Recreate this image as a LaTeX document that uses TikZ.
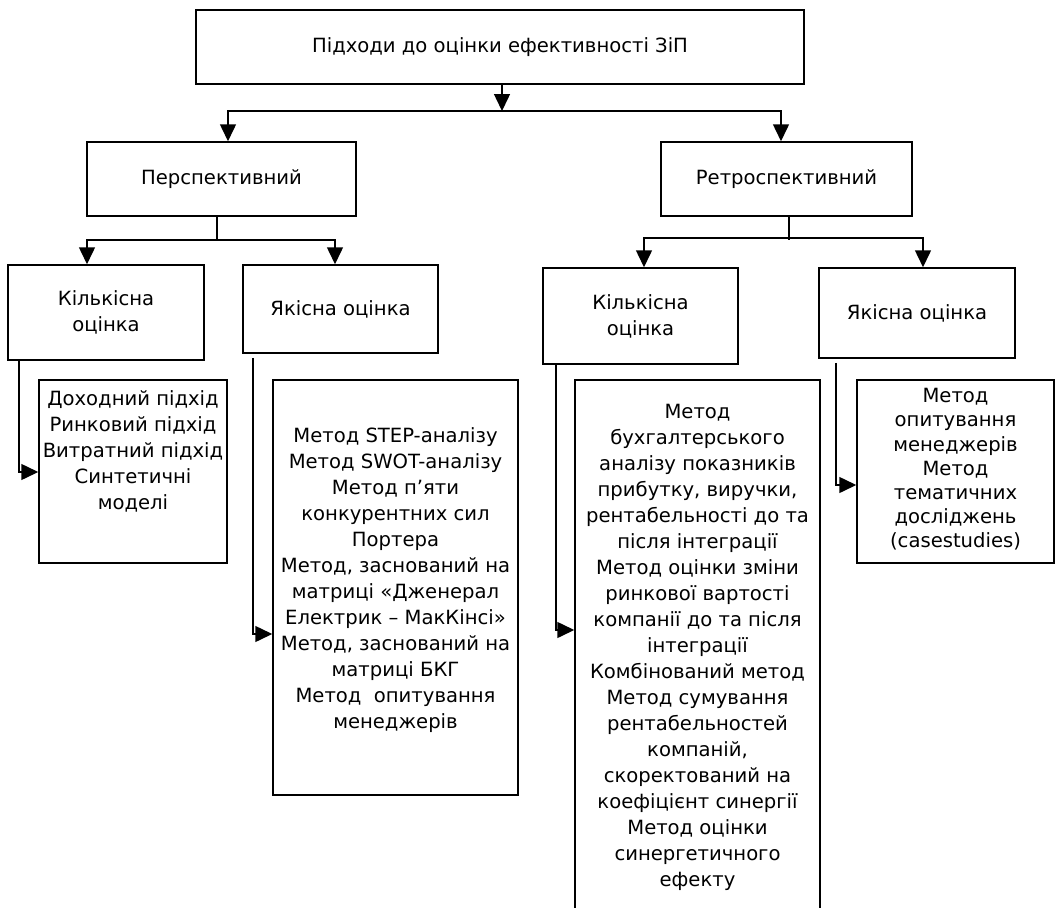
\documentclass[tikz,border=0pt]{standalone}
\usepackage{fontspec}
\setmainfont{DejaVu Sans}
\usepackage{tikz}
\usetikzlibrary{arrows.meta,calc}

\begin{document}
\begin{tikzpicture}[x=1pt,y=-1pt,line width=1.5pt,
    font=\fontsize{19.6}{26}\selectfont,
    box/.style={draw,inner sep=0pt,align=center},
    txt/.style={align=center,inner sep=0pt},
    arr/.style={-{Triangle[length=17pt,width=16pt]}}]
            \clip (0,0) rectangle (1062,907);
            \node[box,minimum width=608,minimum height=74] (top) at (500,47) {Підходи до оцінки ефективності ЗіП};
            \node[box,minimum width=269,minimum height=74] (persp) at (221.5,179) {Перспективний};
            \node[box,minimum width=251,minimum height=74] (retro) at (786.5,179) {Ретроспективний};
            \node[box,minimum width=196,minimum height=95] (kl) at (106,312.5) {Кількісна\\оцінка};
            \node[box,minimum width=195,minimum height=88] (yl) at (340.5,309) {Якісна оцінка};
            \node[box,minimum width=195,minimum height=96] (kr) at (640.5,316) {Кількісна\\оцінка};
            \node[box,minimum width=196,minimum height=90] (yr) at (917,313) {Якісна оцінка};
            \node[box,minimum width=188,minimum height=183] (klist) at (133,471.5) {};
            \node[box,minimum width=245,minimum height=415] (ylist) at (395.5,587.5) {};
            \node[box,minimum width=245,minimum height=560] (krlist) at (697.5,660) {};
            \node[box,minimum width=197,minimum height=183] (yrlist) at (955.5,471.5) {};
            \node[txt] (klistt) at (133,451) {Доходний підхід\\Ринковий підхід\\Витратний підхід\\Синтетичні\\моделі};
            \node[txt] (ylistt) at (395.5,580.5) {Метод STEP-аналізу\\Метод SWOT-аналізу\\Метод п’яти\\конкурентних сил\\Портера\\Метод, заснований на\\матриці «Дженерал\\Електрик – МакКінсі»\\Метод, заснований на\\матриці БКГ\\Метод~ опитування\\менеджерів};
            \node[txt] (krlistt) at (697.5,647) {Метод\\бухгалтерського\\аналізу показників\\прибутку, виручки,\\рентабельності до та\\після інтеграції\\Метод оцінки зміни\\ринкової вартості\\компанії до та після\\інтеграції\\Комбінований метод\\Метод сумування\\рентабельностей\\компаній,\\скоректований на\\коефіцієнт синергії\\Метод оцінки\\синергетичного\\ефекту};
            \node[txt,font=\fontsize{19.6}{24.2}\selectfont] (yrlistt) at (955.5,469.5) {Метод\\опитування\\менеджерів\\Метод\\тематичних\\досліджень\\(casestudies)};
            \coordinate (j0) at (502,111);
            \coordinate (j1) at (217,240);
            \coordinate (j2) at (789,238);
            \draw[arr] (top.south -| j0) -- (j0);
            \draw[arr] (j0) -| ([xshift=6.5]persp.north);
            \draw[arr] (j0) -| ([xshift=-5.5]retro.north);
            \draw (persp.south -| j1) -- (j1);
            \draw[arr] (j1) -| ([xshift=-19]kl.north);
            \draw[arr] (j1) -| ([xshift=-5.5]yl.north);
            \draw (retro.south -| j2) -- ([yshift=-2]j2);
            \draw[arr] (j2) -| ([xshift=3.5]kr.north);
            \draw[arr] (j2) -| ([xshift=6]yr.north);
            \coordinate (c1) at (19,472);
            \coordinate (c2) at (253,634);
            \coordinate (c3) at (556,630);
            \coordinate (c4) at (836,485);
            \draw[arr] (kl.south -| c1) |- (klist.west |- c1);
            \draw[arr] ([yshift=-4]yl.south -| c2) |- (ylist.west |- c2);
            \draw[arr] (kr.south -| c3) |- (krlist.west |- c3);
            \draw[arr] ([yshift=-4]yr.south -| c4) |- (yrlist.west |- c4);
        \end{tikzpicture}
\end{document}
